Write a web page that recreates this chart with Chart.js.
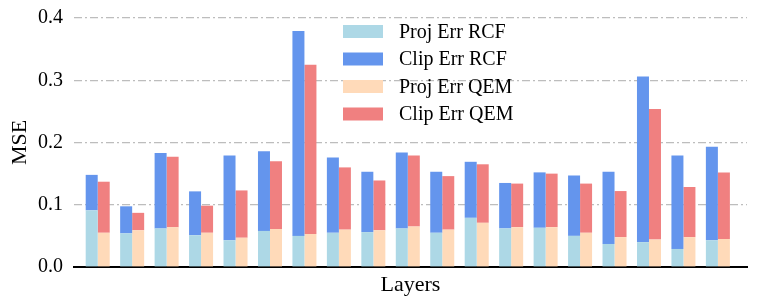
<!DOCTYPE html>
<html>
<head>
<meta charset="utf-8">
<script src="https://cdn.jsdelivr.net/npm/chart.js@4.4.1/dist/chart.umd.min.js"></script>
<style>
	html, body { margin: 0; padding: 0; background: #fff; }
	#wrap { width: 762px; height: 306px; }
</style>
</head>
<body>
<div id="wrap"><canvas id="mseChart" width="762" height="306"></canvas></div>
<script>
"use strict";

// layer index, one entry per pair of bars
const layers = [0, 1, 2, 3, 4, 5, 6, 7, 8, 9, 10, 11, 12, 13, 14, 15, 16, 17, 18];

const projErrRCF = [0.091, 0.054, 0.062, 0.051, 0.043, 0.058, 0.050, 0.055, 0.056, 0.062, 0.055, 0.079, 0.062, 0.063, 0.050, 0.037, 0.040, 0.029, 0.043];
const clipErrRCF = [0.057, 0.0435, 0.121, 0.0705, 0.136, 0.128, 0.329, 0.121, 0.097, 0.122, 0.098, 0.090, 0.073, 0.089, 0.097, 0.116, 0.266, 0.150, 0.150];
const projErrQEM = [0.055, 0.059, 0.064, 0.055, 0.047, 0.061, 0.053, 0.060, 0.059, 0.065, 0.060, 0.071, 0.064, 0.064, 0.055, 0.048, 0.044, 0.048, 0.045];
const clipErrQEM = [0.082, 0.028, 0.113, 0.0435, 0.076, 0.109, 0.272, 0.100, 0.080, 0.114, 0.086, 0.094, 0.070, 0.086, 0.079, 0.074, 0.210, 0.0805, 0.107];

const yTicks = [0.0, 0.1, 0.2, 0.3, 0.4];

const serif = "'Liberation Serif', 'DejaVu Serif', serif";

function points(values) {
	return values.map((v, i) => ({ x: layers[i], y: v }));
}

// legend drawn inside the plot, matplotlib style
const innerLegend = {
	id: 'innerLegend',
	afterDraw(chart) {
		const ctx = chart.ctx;
		const boxX = 343, boxW = 40, boxH = 13;
		const rows = [31.5, 59, 86.5, 114];
		ctx.save();
		ctx.font = "20px " + serif;
		ctx.textBaseline = 'middle';
		ctx.textAlign = 'left';
		chart.data.datasets.forEach((ds, i) => {
			ctx.fillStyle = ds.backgroundColor;
			ctx.fillRect(boxX, rows[i] - boxH / 2, boxW, boxH);
			ctx.fillStyle = '#000';
			ctx.fillText(ds.label, 399, rows[i] + 1);
		});
		ctx.restore();
	}
};

const ctx = document.getElementById('mseChart').getContext('2d');

const mseChart = new Chart(ctx, {
	type: 'bar',
	data: {
		datasets: [
			{
				label: 'Proj Err RCF',
				data: points(projErrRCF),
				backgroundColor: '#ADD8E6',
				stack: 'rcf'
			},
			{
				label: 'Clip Err RCF',
				data: points(clipErrRCF),
				backgroundColor: '#6495ED',
				stack: 'rcf'
			},
			{
				label: 'Proj Err QEM',
				data: points(projErrQEM),
				backgroundColor: '#FFDAB9',
				stack: 'qem'
			},
			{
				label: 'Clip Err QEM',
				data: points(clipErrQEM),
				backgroundColor: '#F08080',
				stack: 'qem'
			}
		]
	},
	options: {
		responsive: false,
		animation: false,
		categoryPercentage: 0.697,
		barPercentage: 1.0,
		layout: {
			padding: { top: 18, right: 15, left: 0, bottom: 6 }
		},
		plugins: {
			legend: { display: false },
			tooltip: { enabled: false }
		},
		scales: {
			x: {
				type: 'linear',
				stacked: true,
				offset: false,
				min: -0.688,
				max: 18.845,
				ticks: { display: false },
				grid: { display: false, offset: false },
				border: { display: true, color: '#000', width: 2 },
				title: {
					display: true,
					text: 'Layers',
					color: '#000',
					font: { family: serif, size: 22 },
					padding: { top: 4, bottom: 2 }
				},
				afterFit(scale) {
					scale.height = 33;
					scale.paddingLeft = 0;
					scale.paddingRight = 0;
				}
			},
			y: {
				stacked: true,
				min: 0,
				max: 0.4,
				afterBuildTicks(scale) {
					scale.ticks = yTicks.map(v => ({ value: v }));
				},
				ticks: {
					color: '#000',
					padding: 11,
					font: { family: serif, size: 20 },
					callback: v => v.toFixed(1)
				},
				grid: {
					drawTicks: false,
					color: c => (c.tick && c.tick.value === 0) ? 'rgba(0,0,0,0)' : '#bdbdbd',
					lineWidth: 1.2
				},
				border: { display: false, dash: [8, 3, 2, 3] },
				title: {
					display: true,
					text: 'MSE',
					color: '#000',
					font: { family: serif, size: 22 },
					padding: { top: 7, bottom: 0 }
				},
				afterFit(scale) {
					scale.width = 74;
					scale.paddingTop = 0;
					scale.paddingBottom = 0;
				}
			}
		}
	},
	plugins: [innerLegend]
});
</script>
</body>
</html>
